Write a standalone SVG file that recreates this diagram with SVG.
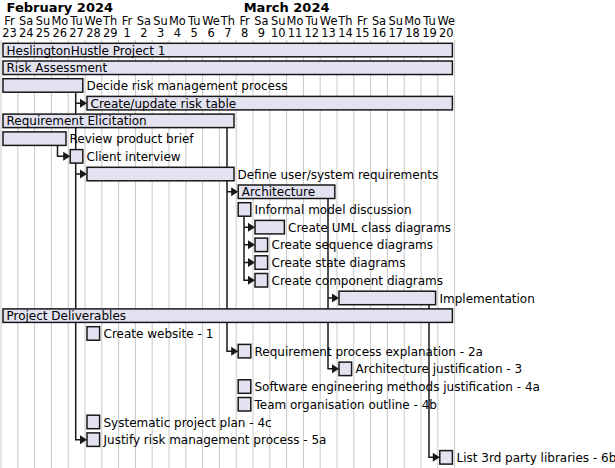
<svg xmlns="http://www.w3.org/2000/svg" width="615" height="468" viewBox="0 0 615 468">
<style>
text{font-family:"DejaVu Sans","Liberation Sans",sans-serif;font-size:12px;fill:#000}
.m{font-weight:bold;font-size:13px;text-anchor:middle}
.d{text-anchor:middle;font-size:11.4px}
.g{stroke:#c8c8c8;stroke-width:1}
.b{fill:#E2E2F0;stroke:#181818;stroke-width:1.5}
.c{fill:none;stroke:#181818;stroke-width:1.5}
.h{fill:#181818;stroke:none}
</style>
<defs>
<path id="ah" d="M-7,-4.5 L0,0 L-7,4.5 Z"/>
</defs>
<rect width="615" height="468" fill="#fff"/>
<g id="header">
<text class="m" x="59.8" y="11.5">February 2024</text>
<text class="m" x="286.6" y="11.5">March 2024</text>
<text class="d" x="9.4" y="24.5">Fr</text><text class="d" x="26.2" y="24.5">Sa</text><text class="d" x="43" y="24.5">Su</text><text class="d" x="59.8" y="24.5">Mo</text><text class="d" x="76.6" y="24.5">Tu</text><text class="d" x="93.4" y="24.5">We</text><text class="d" x="110.2" y="24.5">Th</text><text class="d" x="127" y="24.5">Fr</text><text class="d" x="143.8" y="24.5">Sa</text><text class="d" x="160.6" y="24.5">Su</text><text class="d" x="177.4" y="24.5">Mo</text><text class="d" x="194.2" y="24.5">Tu</text><text class="d" x="211" y="24.5">We</text><text class="d" x="227.8" y="24.5">Th</text><text class="d" x="244.6" y="24.5">Fr</text><text class="d" x="261.4" y="24.5">Sa</text><text class="d" x="278.2" y="24.5">Su</text><text class="d" x="295" y="24.5">Mo</text><text class="d" x="311.8" y="24.5">Tu</text><text class="d" x="328.6" y="24.5">We</text><text class="d" x="345.4" y="24.5">Th</text><text class="d" x="362.2" y="24.5">Fr</text><text class="d" x="379" y="24.5">Sa</text><text class="d" x="395.8" y="24.5">Su</text><text class="d" x="412.6" y="24.5">Mo</text><text class="d" x="429.4" y="24.5">Tu</text><text class="d" x="446.2" y="24.5">We</text>
<text class="d" x="9.4" y="37">23</text><text class="d" x="26.2" y="37">24</text><text class="d" x="43" y="37">25</text><text class="d" x="59.8" y="37">26</text><text class="d" x="76.6" y="37">27</text><text class="d" x="93.4" y="37">28</text><text class="d" x="110.2" y="37">29</text><text class="d" x="127" y="37">1</text><text class="d" x="143.8" y="37">2</text><text class="d" x="160.6" y="37">3</text><text class="d" x="177.4" y="37">4</text><text class="d" x="194.2" y="37">5</text><text class="d" x="211" y="37">6</text><text class="d" x="227.8" y="37">7</text><text class="d" x="244.6" y="37">8</text><text class="d" x="261.4" y="37">9</text><text class="d" x="278.2" y="37">10</text><text class="d" x="295" y="37">11</text><text class="d" x="311.8" y="37">12</text><text class="d" x="328.6" y="37">13</text><text class="d" x="345.4" y="37">14</text><text class="d" x="362.2" y="37">15</text><text class="d" x="379" y="37">16</text><text class="d" x="395.8" y="37">17</text><text class="d" x="412.6" y="37">18</text><text class="d" x="429.4" y="37">19</text><text class="d" x="446.2" y="37">20</text>
</g>
<g id="grid">
<path class="g" d="M1,40V468M17.8,40V468M34.6,40V468M51.4,40V468M68.2,40V468M85,40V468M101.8,40V468M118.6,40V468M135.4,40V468M152.2,40V468M169,40V468M185.8,40V468M202.6,40V468M219.4,40V468M236.2,40V468M253,40V468M269.8,40V468M286.6,40V468M303.4,40V468M320.2,40V468M337,40V468M353.8,40V468M370.6,40V468M387.4,40V468M404.2,40V468M421,40V468M437.8,40V468M454.6,40V468"/>
</g>
<g id="connectors">
<path class="c" d="M75.7,92.2V103.15H81M75.7,92.2V439.65H81M57.5,145.4V156.35H64.2M75.7,163.1V174.05H81M227,127.6V351.15H232.2M227,180.8V191.75H232.2M244,216.2V280.25H249M244,227.15H249M244,244.85H249M244,262.55H249M328,198.5V368.85H333M328,297.95H333M429,304.7V457.35H433.8"/>
<use class="h" href="#ah" x="87" y="103.15"/>
<use class="h" href="#ah" x="87" y="439.65"/>
<use class="h" href="#ah" x="70.2" y="156.35"/>
<use class="h" href="#ah" x="87" y="174.05"/>
<use class="h" href="#ah" x="238.2" y="351.15"/>
<use class="h" href="#ah" x="238.2" y="191.75"/>
<use class="h" href="#ah" x="255" y="227.15"/>
<use class="h" href="#ah" x="255" y="244.85"/>
<use class="h" href="#ah" x="255" y="262.55"/>
<use class="h" href="#ah" x="255" y="280.25"/>
<use class="h" href="#ah" x="339" y="297.95"/>
<use class="h" href="#ah" x="339" y="368.85"/>
<use class="h" href="#ah" x="439.8" y="457.35"/>
</g>
<g id="t0"><rect class="b" x="3" y="43.3" width="449.4" height="13.5"/><text x="6.5" y="54.6">HeslingtonHustle Project 1</text></g>
<g id="t1"><rect class="b" x="3" y="61" width="449.4" height="13.5"/><text x="6.5" y="72.3">Risk Assessment</text></g>
<g id="t2"><rect class="b" x="3" y="78.7" width="79.8" height="13.5"/><text x="86.5" y="90">Decide risk management process</text></g>
<g id="t3"><rect class="b" x="87" y="96.4" width="365.4" height="13.5"/><text x="90.5" y="107.7">Create/update risk table</text></g>
<g id="t4"><rect class="b" x="3" y="114.1" width="231" height="13.5"/><text x="6.5" y="125.4">Requirement Elicitation</text></g>
<g id="t5"><rect class="b" x="3" y="131.9" width="63" height="13.5"/><text x="69.5" y="143.2">Review product brief</text></g>
<g id="t6"><rect class="b" x="70.2" y="149.6" width="12.6" height="13.5"/><text x="86.5" y="160.9">Client interview</text></g>
<g id="t7"><rect class="b" x="87" y="167.3" width="147" height="13.5"/><text x="237.5" y="178.6">Define user/system requirements</text></g>
<g id="t8"><rect class="b" x="238.2" y="185" width="96.6" height="13.5"/><text x="241.7" y="196.3">Architecture</text></g>
<g id="t9"><rect class="b" x="238.2" y="202.7" width="12.6" height="13.5"/><text x="254.5" y="214">Informal model discussion</text></g>
<g id="t10"><rect class="b" x="255" y="220.4" width="29.4" height="13.5"/><text x="288" y="231.7">Create UML class diagrams</text></g>
<g id="t11"><rect class="b" x="255" y="238.1" width="12.6" height="13.5"/><text x="271.5" y="249.4">Create sequence diagrams</text></g>
<g id="t12"><rect class="b" x="255" y="255.8" width="12.6" height="13.5"/><text x="271.5" y="267.1">Create state diagrams</text></g>
<g id="t13"><rect class="b" x="255" y="273.5" width="12.6" height="13.5"/><text x="271.5" y="284.8">Create component diagrams</text></g>
<g id="t14"><rect class="b" x="339" y="291.2" width="96.6" height="13.5"/><text x="439.5" y="302.5">Implementation</text></g>
<g id="t15"><rect class="b" x="3" y="308.9" width="449.4" height="13.5"/><text x="6.5" y="320.2">Project Deliverables</text></g>
<g id="t16"><rect class="b" x="87" y="326.7" width="12.6" height="13.5"/><text x="103.5" y="338">Create website - 1</text></g>
<g id="t17"><rect class="b" x="238.2" y="344.4" width="12.6" height="13.5"/><text x="254.5" y="355.7">Requirement process explanation - 2a</text></g>
<g id="t18"><rect class="b" x="339" y="362.1" width="12.6" height="13.5"/><text x="355.5" y="373.4">Architecture justification - 3</text></g>
<g id="t19"><rect class="b" x="238.2" y="379.8" width="12.6" height="13.5"/><text x="254.5" y="391.1">Software engineering methods justification - 4a</text></g>
<g id="t20"><rect class="b" x="238.2" y="397.5" width="12.6" height="13.5"/><text x="254.5" y="408.8">Team organisation outline - 4b</text></g>
<g id="t21"><rect class="b" x="87" y="415.2" width="12.6" height="13.5"/><text x="103.5" y="426.5">Systematic project plan - 4c</text></g>
<g id="t22"><rect class="b" x="87" y="432.9" width="12.6" height="13.5"/><text x="103.5" y="444.2">Justify risk management process - 5a</text></g>
<g id="t23"><rect class="b" x="439.8" y="450.6" width="12.6" height="13.5"/><text x="456.5" y="461.9">List 3rd party libraries - 6b</text></g>
</svg>
